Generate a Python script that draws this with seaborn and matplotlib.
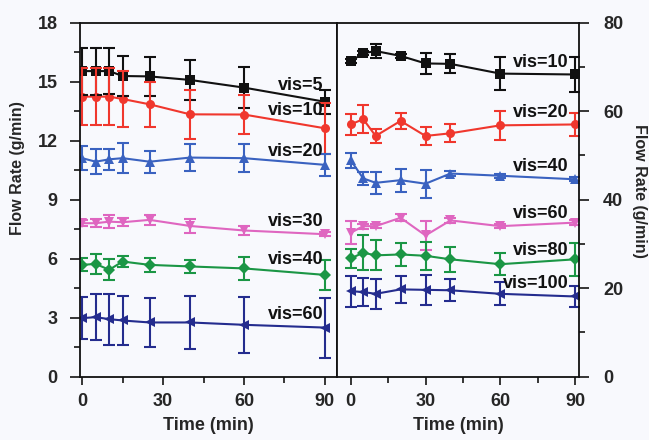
import matplotlib
matplotlib.use("Agg")
import matplotlib.pyplot as plt
from matplotlib.ticker import MultipleLocator
import seaborn as sns
import pandas as pd

# left panel: Time (min) vs flow rate (g/min)
t_left = [0, 5, 10, 15, 25, 40, 60, 90]
l_vis5 = [15.54, 15.54, 15.54, 15.29, 15.27, 15.09, 14.70, 13.98]
l_vis5_err = [1.2, 1.2, 1.15, 1.0, 1.0, 1.0, 1.05, 0.6]
l_vis10 = [14.24, 14.24, 14.24, 14.12, 13.85, 13.34, 13.33, 12.63]
l_vis10_err = [1.44, 1.44, 1.44, 1.4, 1.15, 1.24, 1.0, 1.3]
l_vis20 = [11.11, 10.93, 11.05, 11.11, 10.93, 11.14, 11.11, 10.77]
l_vis20_err = [0.6, 0.65, 0.55, 0.75, 0.55, 0.7, 0.72, 0.55]
l_vis30 = [7.80, 7.80, 7.88, 7.85, 7.97, 7.66, 7.43, 7.24]
l_vis30_err = [0.15, 0.2, 0.33, 0.2, 0.27, 0.34, 0.23, 0.1]
l_vis40 = [5.68, 5.73, 5.43, 5.85, 5.68, 5.60, 5.50, 5.17]
l_vis40_err = [0.33, 0.5, 0.53, 0.27, 0.37, 0.35, 0.6, 0.77]
l_vis60 = [2.97, 3.02, 2.92, 2.85, 2.75, 2.75, 2.63, 2.49]
l_vis60_err = [1.08, 1.17, 1.3, 1.27, 1.23, 1.34, 1.44, 1.53]

# right panel
t_right = [0, 5, 10, 20, 30, 40, 60, 90]
r_vis10 = [71.3, 73.1, 73.6, 72.5, 70.8, 70.7, 68.5, 68.3]
r_vis10_err = [0.5, 0.5, 1.6, 0.5, 2.4, 2.15, 3.7, 3.9]
r_vis20 = [57.0, 58.2, 54.4, 57.8, 54.4, 55.0, 56.8, 57.0]
r_vis20_err = [2.45, 3.1, 1.5, 1.9, 2.1, 2.0, 3.3, 2.7]
r_vis40 = [48.9, 44.8, 43.8, 44.4, 43.6, 45.9, 45.4, 44.6]
r_vis40_err = [1.7, 1.4, 2.5, 2.6, 3.2, 0.5, 0.5, 0.5]
r_vis60 = [32.5, 34.0, 34.0, 35.9, 31.9, 35.3, 34.0, 34.8]
r_vis60_err = [2.6, 0.6, 0.5, 0.8, 3.3, 0.5, 0.5, 0.5]
r_vis80 = [26.7, 28.0, 27.4, 27.6, 27.3, 26.5, 25.4, 26.5]
r_vis80_err = [2.2, 3.9, 3.4, 2.6, 3.2, 2.9, 2.5, 3.7]
r_vis100 = [19.3, 19.1, 18.7, 19.7, 19.6, 19.5, 18.7, 18.1]
r_vis100_err = [3.5, 3.2, 3.4, 3.0, 3.4, 2.45, 2.6, 2.45]

left_labels = ["vis=5", "vis=10", "vis=20", "vis=30", "vis=40", "vis=60"]
right_labels = ["vis=10", "vis=20", "vis=40", "vis=60", "vis=80", "vis=100"]
left_series = [(l_vis5, l_vis5_err), (l_vis10, l_vis10_err), (l_vis20, l_vis20_err),
               (l_vis30, l_vis30_err), (l_vis40, l_vis40_err), (l_vis60, l_vis60_err)]
right_series = [(r_vis10, r_vis10_err), (r_vis20, r_vis20_err), (r_vis40, r_vis40_err),
                (r_vis60, r_vis60_err), (r_vis80, r_vis80_err), (r_vis100, r_vis100_err)]

colors = ["#111111", "#f0372d", "#3a62c0", "#df66c0", "#1b9645", "#242c8e"]
markers = ["s", "o", "^", "v", "D", "<"]
# label positions (text anchored at right edge)
left_text_y = [14.83, 13.56, 11.43, 7.87, 5.94, 3.15]
right_text_y = [71.1, 59.6, 47.6, 36.9, 28.5, 21.05]

bg = "#f8f9fd"
sns.set_style("ticks")
plt.rcParams["font.family"] = ["Liberation Sans", "DejaVu Sans"]
plt.rcParams["font.weight"] = "bold"

fig = plt.figure(figsize=(6.49, 4.40), dpi=100, facecolor=bg)
ax1 = fig.add_axes([0.1233, 0.1443, 0.3960, 0.8040])
ax2 = fig.add_axes([0.5193, 0.1443, 0.3733, 0.8040])


def draw_panel(ax, times, series, labels, text_y, text_x):
    rows = []
    for lab, (vals, errs) in zip(labels, series):
        for t, v, e in zip(times, vals, errs):
            rows.append({"time": t, "rate": v, "err": e, "series": lab})
    df = pd.DataFrame(rows)
    pal = dict(zip(labels, colors))
    mk = dict(zip(labels, markers))
    sns.lineplot(data=df, x="time", y="rate", hue="series", style="series",
                 palette=pal, markers=mk, dashes=False, markersize=6.5,
                 markeredgewidth=0, linewidth=1.5, legend=False, ax=ax,
                 errorbar=None)
    for lab in labels:
        d = df[df["series"] == lab]
        ax.errorbar(d["time"], d["rate"], yerr=d["err"], fmt="none",
                    ecolor=pal[lab], elinewidth=1.5, capsize=4, capthick=1.5)
    for lab, y in zip(labels, text_y):
        ax.text(text_x, y, lab, ha="right", va="center", fontsize=13,
                fontweight="bold", color="#111111")
    ax.set_facecolor(bg)
    ax.xaxis.set_major_locator(MultipleLocator(30))
    ax.xaxis.set_minor_locator(MultipleLocator(15))
    ax.tick_params(axis="x", which="major", direction="out", length=6, width=1.3,
                   labelsize=13, pad=6)
    ax.tick_params(axis="x", which="minor", direction="out", length=4, width=1.3)
    ax.set_xlabel("Time (min)", fontsize=13, fontweight="bold", labelpad=5)
    ax.set_ylabel("")
    for s in ax.spines.values():
        s.set_visible(True)
        s.set_linewidth(1.3)
        s.set_color("#111111")


draw_panel(ax1, t_left, left_series, left_labels, left_text_y, 89.5)
draw_panel(ax2, t_right, right_series, right_labels, right_text_y, 87.3)

ax1.set_xlim(-0.8, 94.5)
ax1.set_ylim(0, 18)
ax1.yaxis.set_major_locator(MultipleLocator(3))
ax1.yaxis.set_minor_locator(MultipleLocator(1.5))
ax1.tick_params(axis="y", which="major", direction="out", length=7, width=1.3,
                labelsize=13, pad=9, left=True, right=False)
ax1.tick_params(axis="y", which="minor", direction="out", length=4, width=1.3,
                left=True, right=False)

ax2.set_xlim(-5.5, 91.7)
ax2.set_ylim(0, 80)
ax2.yaxis.set_major_locator(MultipleLocator(20))
ax2.yaxis.set_minor_locator(MultipleLocator(10))
ax2.yaxis.tick_right()
ax2.tick_params(axis="y", which="major", direction="out", length=7, width=1.3,
                labelsize=13, pad=10, left=False, right=True, labelright=True,
                labelleft=False)
ax2.tick_params(axis="y", which="minor", direction="out", length=4, width=1.3,
                left=False, right=True)

for ax in (ax1, ax2):
    for lab in ax.get_xticklabels() + ax.get_yticklabels():
        lab.set_fontweight("bold")

fig.text(18 / 649, 1 - 168 / 440, "Flow Rate (g/min)", rotation=90, ha="center",
         va="center", fontsize=11.5, fontweight="bold")
fig.text(640 / 649, 1 - 191 / 440, "Flow Rate (g/min)", rotation=270, ha="center",
         va="center", fontsize=11.5, fontweight="bold")

fig.savefig("out.png", dpi=100, facecolor=bg)
